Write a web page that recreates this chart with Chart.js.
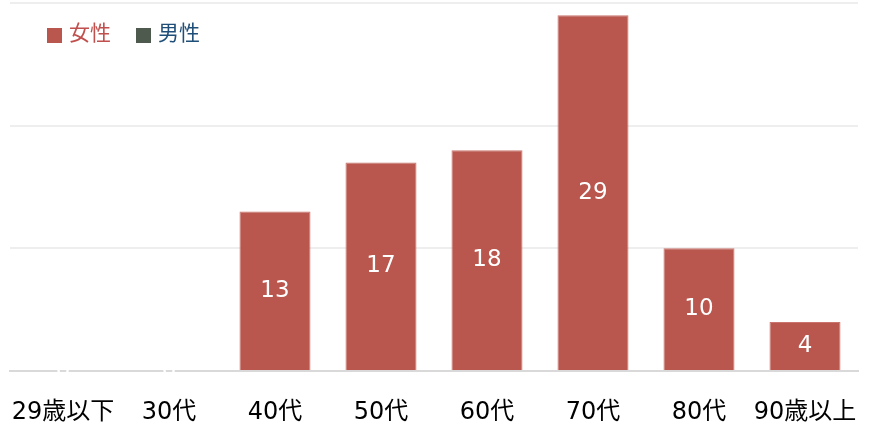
<!DOCTYPE html>
<html>
<head>
<meta charset="utf-8">
<script src="https://cdn.jsdelivr.net/npm/chart.js@4"></script>
<style>
  html, body { margin: 0; padding: 0; background: #ffffff; }
  #wrap { width: 873px; height: 426px; }
</style>
</head>
<body>
<div id="wrap"><canvas id="chart"></canvas></div>
<script>
const categories = ["29歳以下", "30代", "40代", "50代", "60代", "70代", "80代", "90歳以上"];
const femaleValues = [0, 0, 13, 17, 18, 29, 10, 4];
const maleValues = [0, 0, 0, 0, 0, 0, 0, 0];
const seriesNames = ["女性", "男性"];
const seriesColors = ["#b9564d", "#4f5a4e"];
const legendTextColors = ["#c0504d", "#1f4e79"];

const fontFamily = "'DejaVu Sans', 'Noto Sans CJK JP', sans-serif";

// white value labels in the middle of each bar
const valueLabels = {
    id: "valueLabels",
    afterDatasetsDraw(chart) {
        const ctx = chart.ctx;
        const meta = chart.getDatasetMeta(0);
        ctx.save();
        ctx.fillStyle = "#ffffff";
        ctx.font = "23px " + fontFamily;
        ctx.textAlign = "center";
        ctx.textBaseline = "middle";
        meta.data.forEach((bar, i) => {
            const y = (bar.y + bar.base) / 2;
            ctx.fillText(String(femaleValues[i]), bar.x, y);
        });
        ctx.restore();
    }
};

// legend sitting inside the plot, top left
const innerLegend = {
    id: "innerLegend",
    afterDraw(chart) {
        const ctx = chart.ctx;
        let x = 47;
        const y = 35;
        ctx.save();
        ctx.font = "21px " + fontFamily;
        ctx.textBaseline = "middle";
        ctx.textAlign = "left";
        chart.data.datasets.forEach((ds, i) => {
            ctx.fillStyle = ds.backgroundColor;
            ctx.fillRect(x, y - 7, 15, 15);
            ctx.fillStyle = legendTextColors[i];
            ctx.fillText(ds.label, x + 22, y);
            x += 22 + ctx.measureText(ds.label).width + 25;
        });
        ctx.restore();
    }
};

new Chart(document.getElementById("chart"), {
    type: "bar",
    data: {
        labels: categories,
        datasets: [{
            label: seriesNames[0],
            data: femaleValues,
            backgroundColor: seriesColors[0],
            borderColor: "#c9756e",
            borderWidth: 1,
            borderSkipped: "bottom"
        },
        {
            label: seriesNames[1],
            data: maleValues,
            backgroundColor: seriesColors[1]
        }
        ]
    },
    options: {
        responsive: true,
        maintainAspectRatio: false,
        animation: false,
        datasets: {
            bar: {
                categoryPercentage: 1,
                barPercentage: 0.67
            }
        },
        layout: {
            padding: { left: 10, right: 15, top: 3, bottom: 0 }
        },
        scales: {
            x: {
                stacked: true,
                grid: { display: false },
                border: { display: true, color: "#d9d9d9", width: 2 },
                ticks: {
                    color: "#000000",
                    font: { family: fontFamily, size: 24 },
                    padding: 19,
                    maxRotation: 0,
                    autoSkip: false
                },
                afterFit: (scale) => {
                    scale.height = 55;
                    scale.paddingLeft = 0;
                    scale.paddingRight = 0;
                }
            },
            y: {
                stacked: true,
                min: 0,
                max: 30,
                ticks: { display: false, stepSize: 10 },
                border: { display: false },
                grid: {
                    drawTicks: false,
                    color: (c) => c.tick && c.tick.value === 0 ? "rgba(0,0,0,0)" : "#eeeeee",
                    lineWidth: 2
                }
            }
        },
        plugins: {
            legend: { display: false },
            tooltip: { enabled: false }
        }
    },
    plugins: [valueLabels, innerLegend]
});
</script>
</body>
</html>
